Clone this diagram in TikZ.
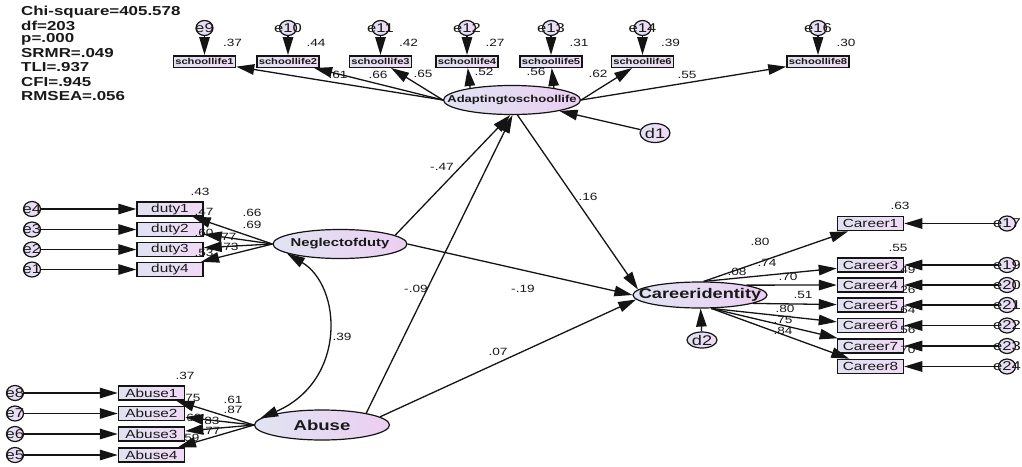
\documentclass[tikz,border=0pt]{standalone}
\usepackage{fontspec}
\setmainfont{Liberation Sans}[FakeStretch=1.3]
\usetikzlibrary{shapes.geometric,arrows.meta}
\definecolor{shL}{RGB}{224,226,240}
\definecolor{shR}{RGB}{240,218,246}
\definecolor{elL}{RGB}{224,228,242}
\definecolor{elR}{RGB}{236,206,242}
\definecolor{ln}{RGB}{20,20,20}
\definecolor{tx}{RGB}{25,25,25}
\newcommand{\fsz}[1]{\fontsize{#1}{#1}\selectfont}
\begin{document}
\begin{tikzpicture}[x=1pt,y=-1pt,
  obs/.style={rectangle, draw=ln, line width=1.5pt, left color=shL, right color=shR,
    minimum height=14pt, minimum width=66pt, inner xsep=1pt, inner ysep=0pt, font=\fsz{11.8}, text=tx},
  slbox/.style={obs, minimum height=11.5pt, minimum width=62pt, font=\bfseries\fsz{8.6}},
  lat/.style={ellipse, draw=ln, line width=1.2pt, left color=elL, right color=elR, inner sep=0pt},
  lattext/.style={font=\bfseries\fsz{#1}, inner sep=0pt, text=tx},
  err/.style={ellipse, draw=ln, line width=1.2pt, left color=shL, right color=shR,
    minimum width=17pt, minimum height=15pt, inner sep=0pt},
  elab/.style={font=\fsz{12.8}, inner sep=0pt, text=tx},
  dist/.style={ellipse, draw=ln, line width=1.2pt, left color=shL, right color=shR,
    minimum width=30pt, minimum height=19pt, inner sep=0pt},
  arr/.style={draw=ln, line width=1.3pt, -{Triangle[length=18pt,width=10.5pt]}},
  cov/.style={draw=ln, line width=1.3pt, {Triangle[length=18pt,width=10.5pt]}-{Triangle[length=18pt,width=10.5pt]}},
  num/.style={font=\fsz{10.5}, inner sep=0pt, text=tx},
  stat/.style={font=\bfseries\fsz{13}, inner sep=0pt, anchor=west, text=tx},
]
\useasboundingbox (0,0) rectangle (1022,466);
\fill[white] (0,0) rectangle (1022,466);

% fit statistics
\node[stat] (s1) at (21,12.5) {Chi-square=405.578};
\node[stat] (s2) at (21,25.5) {df=203};
\node[stat] (s3) at (21,39.5) {p=.000};
\node[stat] (s4) at (21,53.5) {SRMR=.049};
\node[stat] (s5) at (21,67.5) {TLI=.937};
\node[stat] (s6) at (21,82) {CFI=.945};
\node[stat] (s7) at (21,96.5) {RMSEA=.056};

% latent variables
\node[lat, minimum width=137pt, minimum height=29pt] (adapt) at (512,100) {};
\node[lattext=10] at (adapt) {Adaptingtoschoollife};
\node[lat, minimum width=134pt, minimum height=29pt] (neg) at (340,244) {};
\node[lattext=11.4] at (neg) {Neglectofduty};
\node[lat, minimum width=135pt, minimum height=30pt] (abuse) at (322,425) {};
\node[lattext=14.3] at (abuse) {Abuse};
\node[lat, minimum width=134pt, minimum height=26pt] (cid) at (700,295) {};
\node[lattext=14] at (cid) {Careeridentity};

\node[dist] (d1) at (655,133) {};
\node[elab, font=\fsz{14}] at (d1) {d1};
\node[dist, minimum height=16pt] (d2) at (702,340) {};
\node[elab, font=\fsz{14}] at (d2) {d2};

% school life indicators
\foreach \n/\x/\e/\r in {1/204.5/9/.37,2/288/10/.44,3/380.5/11/.42,4/467/12/.27,5/551/13/.31,6/642.5/14/.39,8/818/16/.30}{
  \node[slbox] (sl\n) at (\x,61.5) {schoollife\n};
  \node[err] (e\e) at (\x,28) {};
  \node[elab] at (e\e) {e\e};
  \node[num] at (\x+28,43) {\r};
}
% duty indicators
\foreach \n/\y/\e in {1/209/4,2/229.5/3,3/249.5/2,4/269.5/1}{
  \node[obs] (duty\n) at (170,\y) {duty\n};
  \node[err] (e\e) at (32,\y) {};
  \node[elab] at (e\e) {e\e};
}
% abuse indicators
\foreach \n/\y/\e in {1/393/8,2/413.5/7,3/434/6,4/455/5}{
  \node[obs] (ab\n) at (151.5,\y) {Abuse\n};
  \node[err] (e\e) at (15,\y) {};
  \node[elab] at (e\e) {e\e};
}
% career indicators
\foreach \n/\y/\e in {1/223.5/17,3/265/19,4/285/20,5/305/21,6/325.5/22,7/346/23,8/366.5/24}{
  \node[obs] (car\n) at (870.5,\y) {Career\n};
  \node[err] (e\e) at (1007,\y) {};
  \node[elab] at (e\e) {e\e};
}

% numeric labels
\foreach \t/\x/\y in {.61/338/75,.66/378/75,.65/423/74,.52/484/72,.56/536/72,.62/598/74,.55/687/75,
  .43/200/192,.47/204/212,.60/204/233,.53/204/253,.66/252/213,.69/252/225,.77/227/237,.73/229/247,
  .37/185/376,.75/191/398,.69/192/418,.59/190/438,.61/233/400,.87/233/410,.83/210/421,.77/211/431,
  .63/900/206,.55/898/248,.49/906/270,.26/906/290,.64/906/310,.56/906/330,.70/906/350,
  .80/760/242,.74/767/263,.08/737/272,.70/788/277,.51/803/295,.80/785/309,.75/783/320,.84/783/331,
  -.47/442/167,.16/588/197,-.09/416/289,-.19/523/289,.39/342/337,.07/498/352}{
  \node[num] at (\x,\y) {\t};
}

% error arrows
\foreach \e/\n in {9/1,10/2,11/3,12/4,13/5,14/6,16/8}{\draw[arr] (e\e) -- (sl\n);}
\foreach \e/\n in {4/1,3/2,2/3,1/4}{\draw[arr] (e\e) -- (duty\n);}
\foreach \e/\n in {8/1,7/2,6/3,5/4}{\draw[arr] (e\e) -- (ab\n);}
\foreach \e/\n in {17/1,19/3,20/4,21/5,22/6,23/7,24/8}{\draw[arr] (e\e) -- (car\n);}

% loadings
\draw[arr] (adapt.west) -- (sl1);
\draw[arr] (adapt.west) -- (sl2);
\draw[arr] (adapt.west) -- (sl3);
\draw[arr] (adapt.164) -- (sl4);
\draw[arr] (adapt.16) -- (sl5);
\draw[arr] (adapt.east) -- (sl6);
\draw[arr] (adapt.east) -- (sl8);
\foreach \n in {1,2,3,4}{\draw[arr] (neg.west) -- (duty\n);}
\foreach \n in {1,2,3,4}{\draw[arr] (abuse.west) -- (ab\n);}
\draw[arr] (cid.75) -- (car1);
\draw[arr] (cid.75) -- (car3);
\draw[arr] (cid.12) -- (car4);
\draw[arr] (cid.-9) -- (car5);
\draw[arr] (cid.-50) -- (car6);
\draw[arr] (cid.-50) -- (car7);
\draw[arr] (cid.-50) -- (car8);

% structural paths
\draw[arr] (neg.9) -- (adapt.-97);
\draw[arr] (abuse.15) -- (adapt.-88);
\draw[arr] (adapt.-70) -- (cid.175);
\draw[arr] (neg.east) -- (cid.west);
\draw[arr] (abuse.8) -- (cid.-176);
\draw[arr] (d1) -- (adapt);
\draw[arr] (d2) -- (cid);
\draw[cov] (neg.190) .. controls +(55,33) and +(87,-38) .. (abuse.174);
\end{tikzpicture}
\end{document}
